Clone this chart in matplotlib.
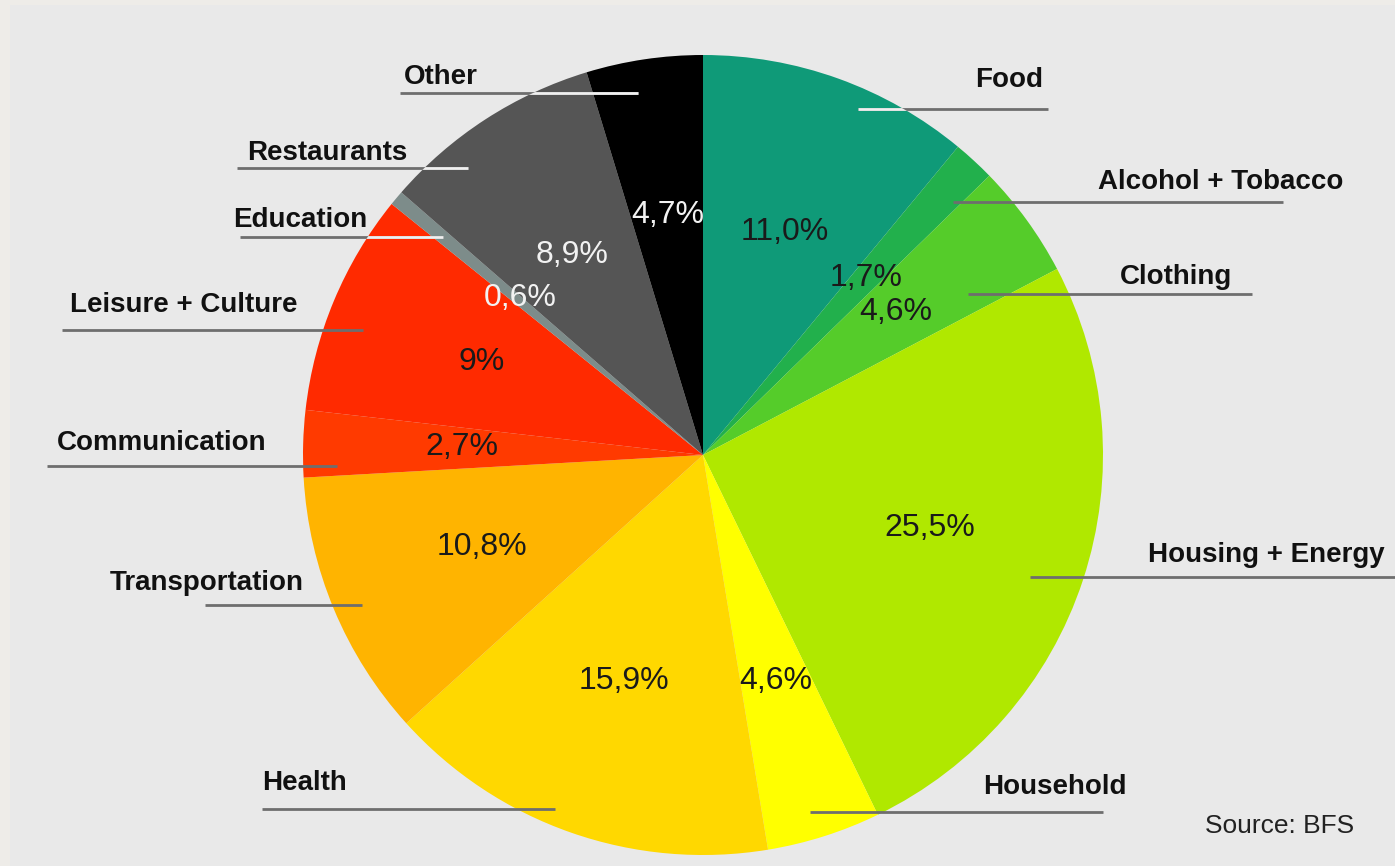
import matplotlib.pyplot as plt
from matplotlib.patches import Rectangle, Circle

plt.rcParams['font.family'] = ['Liberation Sans', 'DejaVu Sans']

categories = ['Food', 'Alcohol + Tobacco', 'Clothing', 'Housing + Energy', 'Household',
              'Health', 'Transportation', 'Communication', 'Leisure + Culture',
              'Education', 'Restaurants', 'Other']
shares = [11.0, 1.7, 4.6, 25.5, 4.6, 15.9, 10.8, 2.7, 9.0, 0.6, 8.9, 4.7]
pct_labels = ['11,0%', '1,7%', '4,6%', '25,5%', '4,6%', '15,9%', '10,8%', '2,7%',
              '9%', '0,6%', '8,9%', '4,7%']
colors = ['#0f9a78', '#22b04c', '#55cc2a', '#b0e800', '#ffff00', '#ffd800',
          '#ffb400', '#ff3a00', '#ff2a00', '#7d8c8a', '#555555', '#000000']
pct_colors = ['#1a1a1a'] * 9 + ['#f2f2f2'] * 3

# layout (image pixel coords, y from top)
pct_pos = [(785, 232), (866, 278), (896, 312), (930, 528), (776, 681), (624, 681),
           (482, 547), (462, 447), (482, 362), (520, 298), (572, 255), (668, 215)]
label_pos = [(975, 80), (1098, 182), (1120, 277), (1148, 555), (983, 787), (262, 783),
             (110, 583), (57, 443), (70, 305), (233, 220), (247, 153), (404, 77)]
leader = [(858, 1048, 109), (953, 1283, 202), (968, 1252, 294), (1030, 1395, 577),
          (810, 1103, 812), (262, 555, 809), (205, 362, 605), (47, 337, 466),
          (62, 363, 330), (240, 443, 237), (237, 468, 168), (400, 638, 93)]
inner_white = [True, False, False, False, False, False, False, False, False,
               True, True, True]

W, H = 1395, 866
cx, cy, R = 703, 455, 400


def Y(y):
    return H - y


fig = plt.figure(figsize=(W / 100, H / 100), dpi=100, facecolor='#eeece8')
ax = fig.add_axes([0, 0, 1, 1])
ax.add_patch(Rectangle((10, 0), W - 10, H - 5, facecolor='#e9e9e9', edgecolor='none', zorder=0))

ax.pie(shares, colors=colors, startangle=90, counterclock=False,
       center=(cx, Y(cy)), radius=R, wedgeprops=dict(linewidth=0))

clip = Circle((cx, Y(cy)), R, transform=ax.transData)
for (x0, x1, y), white in zip(leader, inner_white):
    ax.plot([x0, x1], [Y(y), Y(y)], color='#6e6e6e', lw=2, zorder=3, solid_capstyle='butt')
    if white:
        ln, = ax.plot([x0, x1], [Y(y), Y(y)], color='#f0f0f0', lw=2, zorder=4,
                      solid_capstyle='butt')
        ln.set_clip_path(clip)

for name, (x, y) in zip(categories, label_pos):
    ax.text(x, Y(y), name, ha='left', va='center', fontsize=20, fontweight='bold',
            color='#111111', zorder=5)

for txt, (x, y), c in zip(pct_labels, pct_pos, pct_colors):
    ax.text(x, Y(y), txt, ha='center', va='center', fontsize=23, color=c, zorder=5)

ax.text(1205, Y(826), 'Source: BFS', ha='left', va='center', fontsize=19, color='#222222')

ax.set_xlim(0, W)
ax.set_ylim(0, H)
ax.axis('off')
fig.savefig('out.png', dpi=100, facecolor=fig.get_facecolor())
